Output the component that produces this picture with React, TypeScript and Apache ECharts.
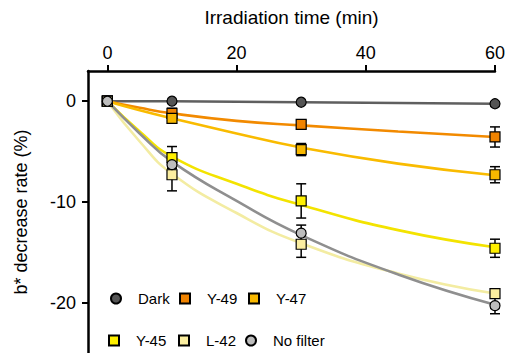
import React, { useEffect, useRef } from "react";
import * as echarts from "echarts";

// Measured time points (min)
const times = [0, 10, 30, 60];
// b* decrease rate (%) per filter
const dark = [0, 0, -0.1, -0.25];
const y49 = [0, -1.2, -2.3, -3.55];
const y47 = [0, -1.7, -4.8, -7.3];
const y45 = [0, -5.6, -9.9, -14.6];
const l42 = [0, -7.3, -14.2, -19.1];
const noFilter = [0, -6.3, -13.1, -20.3];
// error bar half-widths
const darkErr = [0, 0, 0, 0];
const y49Err = [0, 0.5, 0.4, 1.0];
const y47Err = [0, 0.4, 0.6, 0.8];
const y45Err = [0, 1.1, 1.7, 0.9];
const l42Err = [0, 1.6, 1.3, 0.4];
const noFilterErr = [0, 0.8, 0.8, 0.8];
// fitted curves
const fitTimes = [0, 5, 10, 20, 30, 45, 60];
const y49Fit = [0, -0.65, -1.2, -1.95, -2.4, -3.0, -3.55];
const y47Fit = [0, -0.9, -1.7, -3.2, -4.6, -6.2, -7.35];
const y45Fit = [0, -3.0, -5.5, -8.2, -10.3, -12.8, -14.5];
const noFilterFit = [0, -3.2, -6.0, -9.9, -13.3, -17.2, -20.2];
const l42Fit = [0, -4.0, -7.2, -11.1, -14.1, -17.1, -19.1];
// axis ticks
const xTicks = [0, 20, 40, 60];
const yTicks = [0, -10, -20];

const FONT = "Liberation Sans";

type Grp = {
  name: string;
  vals: number[];
  err: number[];
  fitX: number[];
  fitY: number[];
  symbol: string;
  fill: string;
  line: string;
};

const groups: Grp[] = [
  { name: "Dark", vals: dark, err: darkErr, fitX: times, fitY: dark, symbol: "circle", fill: "#555555", line: "#5f5f5f" },
  { name: "Y-49", vals: y49, err: y49Err, fitX: fitTimes, fitY: y49Fit, symbol: "rect", fill: "#f08300", line: "#f28a00" },
  { name: "Y-47", vals: y47, err: y47Err, fitX: fitTimes, fitY: y47Fit, symbol: "rect", fill: "#f8b800", line: "#f9bb00" },
  { name: "Y-45", vals: y45, err: y45Err, fitX: fitTimes, fitY: y45Fit, symbol: "rect", fill: "#fff000", line: "#f3e300" },
  { name: "L-42", vals: l42, err: l42Err, fitX: fitTimes, fitY: l42Fit, symbol: "rect", fill: "#fbeea0", line: "#f3eca2" },
  { name: "No filter", vals: noFilter, err: noFilterErr, fitX: fitTimes, fitY: noFilterFit, symbol: "circle", fill: "#bdbdbd", line: "#8f8f8f" },
];

// legend icon centres (layout)
const legendPos: [number, number][] = [
  [115, 297], [184, 297], [253, 297],
  [113, 339], [183, 339], [250, 339],
];

export default function App() {
  const ref = useRef<HTMLDivElement>(null);
  useEffect(() => {
    document.body.style.margin = "0";
    if (!ref.current) return;
    const chart = echarts.init(ref.current, null, { renderer: "svg" });

    const series: any[] = [];
    groups.forEach((g) => {
      series.push({
        type: "line",
        name: g.name + " fit",
        data: g.fitX.map((t, i) => [t, g.fitY[i]]),
        showSymbol: false,
        symbol: "none",
        smooth: g.name === "Dark" ? false : 0.5,
        lineStyle: { color: g.line, width: 2.6 },
        z: 2,
        silent: true,
      });
    });
    groups.forEach((g) => {
      series.push({
        type: "custom",
        name: g.name + " err",
        data: times
          .map((t, i) => [t, g.vals[i] - g.err[i], g.vals[i] + g.err[i]])
          .filter((d, i) => g.err[i] > 0),
        z: 3,
        silent: true,
        renderItem: (params: any, api: any) => {
          const x = api.value(0);
          const lo = api.coord([x, api.value(1)]);
          const hi = api.coord([x, api.value(2)]);
          const w = 5;
          const st = { stroke: "#000", lineWidth: 1.5 };
          return {
            type: "group",
            children: [
              { type: "line", shape: { x1: lo[0], y1: lo[1], x2: hi[0], y2: hi[1] }, style: st },
              { type: "line", shape: { x1: lo[0] - w, y1: lo[1], x2: lo[0] + w, y2: lo[1] }, style: st },
              { type: "line", shape: { x1: hi[0] - w, y1: hi[1], x2: hi[0] + w, y2: hi[1] }, style: st },
            ],
          };
        },
      });
    });
    groups.forEach((g) => {
      series.push({
        type: "scatter",
        name: g.name,
        data: times.map((t, i) => [t, g.vals[i]]),
        symbol: g.symbol,
        symbolSize: 10,
        itemStyle: { color: g.fill, borderColor: "#000", borderWidth: 1.2, opacity: 1 },
        z: 4,
      });
    });

    const legends = groups.map((g, i) => ({
      data: [g.name],
      left: legendPos[i][0] - 5,
      top: legendPos[i][1] - 6,
      padding: 0,
      itemWidth: 10,
      itemHeight: 10,
      selectedMode: false,
      formatter: (n: string) => "{g| }" + n,
      textStyle: {
        fontFamily: FONT,
        fontSize: 15,
        color: "#000",
        rich: { g: { width: 12 } },
      },
    }));

    chart.setOption({
      animation: false,
      backgroundColor: "#fff",
      textStyle: { fontFamily: FONT },
      grid: { left: 88, right: 9, top: 71, bottom: 0, containLabel: false },
      legend: legends,
      xAxis: {
        type: "value",
        position: "top",
        min: -3,
        max: 60,
        name: "Irradiation time (min)",
        nameLocation: "middle",
        nameGap: 44,
        nameTextStyle: { fontFamily: FONT, fontSize: 19, color: "#000" },
        axisLine: { onZero: false, lineStyle: { color: "#000", width: 2.5 } },
        axisTick: { show: true, length: 6, customValues: xTicks, lineStyle: { color: "#000", width: 2 } },
        axisLabel: { customValues: xTicks, fontFamily: FONT, fontSize: 18, color: "#000", margin: 9 },
        splitLine: { show: false },
      },
      yAxis: {
        type: "value",
        min: -25,
        max: 3,
        name: "b* decrease rate (%)",
        nameLocation: "middle",
        nameGap: 58,
        nameTextStyle: { fontFamily: FONT, fontSize: 18, color: "#000" },
        axisLine: { show: true, onZero: false, lineStyle: { color: "#000", width: 2.5 } },
        axisTick: { show: true, length: 6, customValues: yTicks, lineStyle: { color: "#000", width: 2 } },
        axisLabel: { customValues: yTicks, fontFamily: FONT, fontSize: 18, color: "#000", margin: 12 },
        splitLine: { show: false },
      },
      series,
    });
    return () => chart.dispose();
  }, []);
  return <div ref={ref} style={{ width: 508, height: 353 }} />;
}
